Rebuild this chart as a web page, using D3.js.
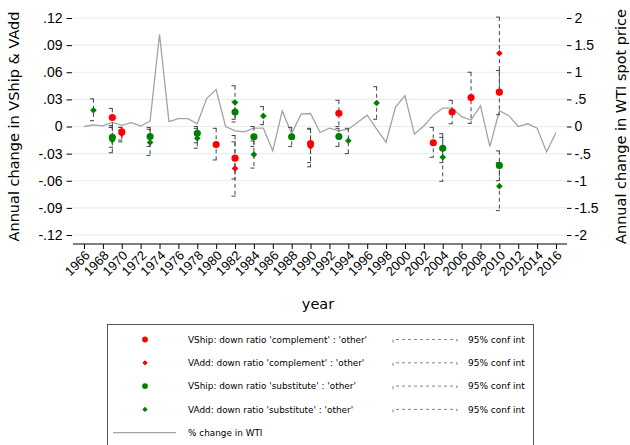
<!DOCTYPE html>
<html>
<head>
<meta charset="utf-8">
<script src="https://d3js.org/d3.v7.min.js"></script>
<style>
  body { margin: 0; background: #fff; }
  svg { font-family: "DejaVu Sans", Verdana, sans-serif; }
</style>
</head>
<body>
<div id="chart"></div>
<script>
// ---- data ----
// WTI % change (right axis)
let wtiYears = d3.range(1966, 2017);
let wtiValues = [0.00, 0.03, 0.01, 0.08, 0.02, 0.07, 0.01, 0.10, 1.70, 0.09,
  0.145, 0.145, 0.05, 0.52, 0.68, 0.00, -0.08, -0.10, -0.03, -0.03,
  -0.45, 0.29, -0.13, 0.23, 0.24, -0.11, -0.03, -0.08, -0.05, 0.08,
  0.21, -0.05, -0.29, 0.36, 0.57, -0.14, 0.01, 0.21, 0.34, 0.34,
  0.18, 0.12, 0.38, -0.37, 0.29, 0.20, 0.00, 0.05, -0.03, -0.47, -0.11];

// VShip: down ratio 'complement' : 'other'
let shipCompYears = [1969, 1970, 1980, 1982, 1990, 1993, 2003, 2005, 2007, 2010];
let shipCompEst   = [0.010, -0.006, -0.020, -0.035, -0.019, 0.0147, -0.018, 0.016, 0.032, 0.038];
let shipCompLo    = [-0.001, -0.015, -0.037, -0.058, -0.040, 0.000, -0.034, 0.003, 0.0035, 0.013];
let shipCompHi    = [0.020, -0.001, -0.002, -0.010, -0.002, 0.029, -0.001, 0.029, 0.060, 0.062];

// VAdd: down ratio 'complement' : 'other'
let addCompYears = [1970, 1982, 1990, 2010];
let addCompEst   = [-0.008, -0.0465, -0.022, 0.081];
let addCompLo    = [-0.017, -0.077, -0.0446, 0.040];
let addCompHi    = [-0.001, -0.017, -0.003, 0.121];

// VShip: down ratio 'substitute' : 'other'
let shipSubYears = [1969, 1973, 1978, 1982, 1984, 1988, 1993, 2004, 2010];
let shipSubEst   = [-0.012, -0.011, -0.0076, 0.016, -0.0113, -0.0113, -0.011, -0.024, -0.043];
let shipSubLo    = [-0.023, -0.022, -0.018, 0.005, -0.022, -0.022, -0.022, -0.040, -0.060];
let shipSubHi    = [0.001, -0.001, 0.000, 0.028, 0.000, -0.001, -0.002, -0.008, -0.027];

// VAdd: down ratio 'substitute' : 'other'
let addSubYears = [1967, 1969, 1973, 1978, 1982, 1984, 1985, 1994, 1997, 2004, 2010];
let addSubEst   = [0.018, -0.015, -0.0176, -0.013, 0.0265, -0.031, 0.0117, -0.0157, 0.026, -0.034, -0.066];
let addSubLo    = [0.0064, -0.029, -0.032, -0.024, 0.008, -0.046, 0.002, -0.030, 0.008, -0.0606, -0.093];
let addSubHi    = [0.0306, -0.001, -0.003, -0.002, 0.045, -0.016, 0.022, -0.002, 0.044, -0.012, -0.040];

let leftTicks = [0.12, 0.09, 0.06, 0.03, 0, -0.03, -0.06, -0.09, -0.12];
let leftLabels = ['.12', '.09', '.06', '.03', '0', '-.03', '-.06', '-.09', '-.12'];
let rightTicks = [2, 1.5, 1, 0.5, 0, -0.5, -1, -1.5, -2];
let rightLabels = ['2', '1.5', '1', '.5', '0', '-.5', '-1', '-1.5', '-2'];
let yearTicks = d3.range(1966, 2017, 2);

let legendLabels = [
  "VShip: down ratio 'complement' : 'other'",
  "VAdd: down ratio 'complement' : 'other'",
  "VShip: down ratio 'substitute' : 'other'",
  "VAdd: down ratio 'substitute' : 'other'",
  "% change in WTI"
];

// ---- layout ----
let config = { svg: {}, plot: {} };
config.svg.width = 630;
config.svg.height = 445;
config.plot.left = 73;
config.plot.right = 567;
config.plot.axisY = 244;

let red = '#ff0000', green = '#008000', ciColor = '#444', wtiColor = '#a3a3a3';

function translate(x, y) {
  return 'translate(' + x + ',' + y + ')';
}

let svg = d3.select('#chart').append('svg')
  .attr('width', config.svg.width)
  .attr('height', config.svg.height);

let x = d3.scaleLinear().domain([1966, 2016]).range([84, 556]);
let yL = d3.scaleLinear().domain([-0.12, 0.12]).range([235, 18]);
let yR = d3.scaleLinear().domain([-2, 2]).range([235, 18]);

// gridlines
svg.append('g').selectAll('line')
  .data(leftTicks).enter().append('line')
  .attr('x1', config.plot.left).attr('x2', config.plot.right)
  .attr('y1', d => yL(d)).attr('y2', d => yL(d))
  .attr('stroke', '#e6eef1').attr('stroke-width', 1.2);

// left axis
let leftAxis = svg.append('g')
  .attr('transform', translate(72, 0))
  .call(d3.axisLeft(yL).tickValues(leftTicks)
    .tickFormat((d, i) => leftLabels[i]).tickSize(5.5).tickPadding(4));
leftAxis.select('.domain').remove();
leftAxis.selectAll('text').style('font-size', '14px').attr('fill', '#000');

// right axis
let rightAxis = svg.append('g')
  .attr('transform', translate(567, 0))
  .call(d3.axisRight(yR).tickValues(rightTicks)
    .tickFormat((d, i) => rightLabels[i]).tickSize(4.5).tickPadding(3));
rightAxis.select('.domain').remove();
rightAxis.selectAll('text').style('font-size', '14px').attr('fill', '#000');

// x axis
let xAxis = svg.append('g')
  .attr('transform', translate(0, config.plot.axisY))
  .call(d3.axisBottom(x).tickValues(yearTicks).tickFormat(d3.format('d')).tickSize(5));
xAxis.select('.domain').remove();
xAxis.append('line')
  .attr('x1', config.plot.left).attr('x2', config.plot.right)
  .attr('stroke', '#000');
xAxis.selectAll('text')
  .attr('x', 0).attr('y', 0).attr('dy', '0.35em')
  .attr('text-anchor', 'end')
  .attr('transform', 'translate(3,9) rotate(-45)')
  .style('font-size', '13px').attr('fill', '#000');

// axis titles
svg.append('text')
  .attr('transform', translate(19, 126.5) + ' rotate(-90)')
  .attr('text-anchor', 'middle').style('font-size', '14.5px')
  .text('Annual change in VShip & VAdd');
svg.append('text')
  .attr('transform', translate(626, 126.5) + ' rotate(-90)')
  .attr('text-anchor', 'middle').style('font-size', '14.5px')
  .text('Annual change in WTI spot price');
svg.append('text')
  .attr('x', 318).attr('y', 309)
  .attr('text-anchor', 'middle').style('font-size', '14.5px')
  .text('year');

// WTI line
let line = d3.line()
  .x((d, i) => x(wtiYears[i]))
  .y(d => yR(d));
svg.append('path')
  .datum(wtiValues)
  .attr('d', line)
  .attr('fill', 'none')
  .attr('stroke', wtiColor)
  .attr('stroke-width', 1.3);

// series
let series = [
  { years: shipCompYears, est: shipCompEst, lo: shipCompLo, hi: shipCompHi, color: red, shape: 'circle' },
  { years: addCompYears, est: addCompEst, lo: addCompLo, hi: addCompHi, color: red, shape: 'diamond' },
  { years: shipSubYears, est: shipSubEst, lo: shipSubLo, hi: shipSubHi, color: green, shape: 'circle' },
  { years: addSubYears, est: addSubEst, lo: addSubLo, hi: addSubHi, color: green, shape: 'diamond' }
];

function rows(s) {
  return s.years.map((yr, i) => ({ year: yr, est: s.est[i], lo: s.lo[i], hi: s.hi[i] }));
}

// confidence intervals (dashed capped spikes)
series.forEach(function(s) {
  let g = svg.append('g')
    .attr('stroke', ciColor).attr('stroke-width', 1)
    .attr('stroke-dasharray', '4,3').attr('fill', 'none');
  let ci = g.selectAll('g').data(rows(s)).enter().append('g');
  ci.append('line')
    .attr('x1', d => x(d.year)).attr('x2', d => x(d.year))
    .attr('y1', d => yL(d.hi)).attr('y2', d => yL(d.lo));
  ci.append('line')
    .attr('x1', d => x(d.year) - 3.5).attr('x2', d => x(d.year) + 3.5)
    .attr('y1', d => yL(d.hi)).attr('y2', d => yL(d.hi));
  ci.append('line')
    .attr('x1', d => x(d.year) - 3.5).attr('x2', d => x(d.year) + 3.5)
    .attr('y1', d => yL(d.lo)).attr('y2', d => yL(d.lo));
});

let circleSym = d3.symbol().type(d3.symbolCircle).size(40);
let diamondSym = d3.symbol().type(d3.symbolDiamond2 || d3.symbolDiamond).size(28);

series.forEach(function(s) {
  svg.append('g').selectAll('path')
    .data(rows(s)).enter().append('path')
    .attr('d', s.shape === 'circle' ? circleSym : diamondSym)
    .attr('transform', d => translate(x(d.year), yL(d.est)))
    .attr('fill', s.color);
});

// legend
let legend = svg.append('g');
legend.append('rect')
  .attr('x', 107.5).attr('y', 324.5)
  .attr('width', 426).attr('height', 130)
  .attr('fill', '#fff').attr('stroke', '#555').attr('stroke-width', 1);

let rowY = d3.scaleLinear().domain([0, 4]).range([339.5, 432.7]);
let legCircle = d3.symbol().type(d3.symbolCircle).size(26);
let legDiamond = d3.symbol().type(d3.symbolDiamond2 || d3.symbolDiamond).size(18);

series.forEach(function(s, i) {
  let yy = rowY(i);
  legend.append('path')
    .attr('d', s.shape === 'circle' ? legCircle : legDiamond)
    .attr('transform', translate(145, yy))
    .attr('fill', s.color);
  legend.append('path')
    .attr('d', 'M393,' + (yy + 3) + 'V' + yy + 'H457V' + (yy + 3))
    .attr('fill', 'none').attr('stroke', '#666').attr('stroke-width', 0.8)
    .attr('stroke-dasharray', '3,3');
  legend.append('text')
    .attr('x', 468).attr('y', yy).attr('dy', '0.35em')
    .style('font-size', '9px').text('95% conf int');
});
legendLabels.forEach(function(lab, i) {
  legend.append('text')
    .attr('x', 188).attr('y', rowY(i)).attr('dy', '0.35em')
    .style('font-size', '8.9px').text(lab);
});
legend.append('line')
  .attr('x1', 113).attr('x2', 176)
  .attr('y1', rowY(4)).attr('y2', rowY(4))
  .attr('stroke', wtiColor).attr('stroke-width', 1.3);
</script>
</body>
</html>
